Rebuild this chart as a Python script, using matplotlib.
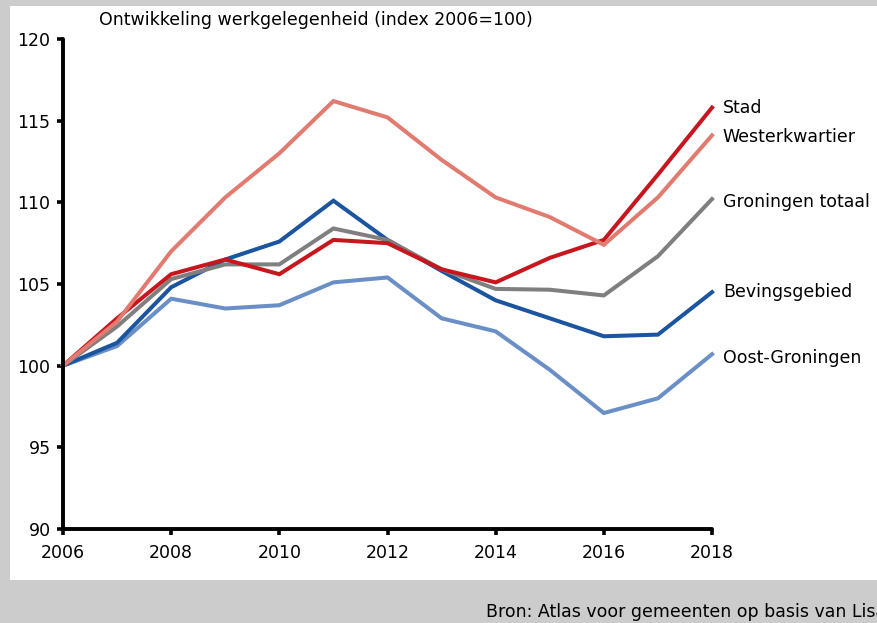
import matplotlib.pyplot as plt
from matplotlib.patches import Rectangle

plt.rcParams['font.family'] = ['DejaVu Sans']

# data
years = list(range(2006, 2019))
stad = [100, 102.9, 105.6, 106.5, 105.6, 107.7, 107.5, 105.9, 105.1, 106.6, 107.7, 111.7, 115.8]
westerkwartier = [100, 102.7, 107.0, 110.3, 113.0, 116.2, 115.2, 112.6, 110.3, 109.1, 107.4, 110.3, 114.1]
groningen_totaal = [100, 102.4, 105.3, 106.2, 106.2, 108.4, 107.7, 105.9, 104.7, 104.65, 104.3, 106.7, 110.2]
bevingsgebied = [100, 101.4, 104.8, 106.5, 107.6, 110.1, 107.7, 105.8, 104.0, 102.9, 101.8, 101.9, 104.5]
oost_groningen = [100, 101.2, 104.1, 103.5, 103.7, 105.1, 105.4, 102.9, 102.1, 99.75, 97.1, 98.0, 100.7]

series = [
    ("Oost-Groningen", oost_groningen, "#6a8fc6"),
    ("Bevingsgebied", bevingsgebied, "#1b55a0"),
    ("Groningen totaal", groningen_totaal, "#7f7f7f"),
    ("Stad", stad, "#c8161e"),
    ("Westerkwartier", westerkwartier, "#e27b6f"),
]
label_y = {"Stad": 115.8, "Westerkwartier": 114.0, "Groningen totaal": 110.0,
           "Bevingsgebied": 104.5, "Oost-Groningen": 100.5}

fs = 12.5

fig = plt.figure(figsize=(8.77, 6.23), dpi=100, facecolor="#cccccc")
# white panel
fig.patches.append(Rectangle((10 / 877, 1 - 580 / 623), 1, (580 - 6) / 623,
                             transform=fig.transFigure, facecolor="white",
                             edgecolor="none", zorder=-5))

ax = fig.add_axes([63 / 877, 1 - 529 / 623, (712 - 63) / 877, (529 - 39) / 623])
ax.set_facecolor("none")

for name, vals, col in series:
    ax.plot(years, vals, color=col, lw=2.9, solid_joinstyle="miter", clip_on=False)
    ax.text(2018.2, label_y[name], name, fontsize=fs, va="center", ha="left")

ax.set_xlim(2006, 2018)
ax.set_ylim(90, 120)
ax.set_xticks(range(2006, 2019, 2))
ax.set_yticks(range(90, 121, 5))
for s in ["top", "right"]:
    ax.spines[s].set_visible(False)
for s in ["left", "bottom"]:
    ax.spines[s].set_linewidth(2.8)
    ax.spines[s].set_capstyle("round")
ax.tick_params(direction="out", length=4, width=2.6, labelsize=fs)
ax.tick_params(axis="x", pad=7)
ax.tick_params(axis="y", pad=5)

ax.text(0.055, 1.038, "Ontwikkeling werkgelegenheid (index 2006=100)", transform=ax.transAxes,
        fontsize=fs, va="center", ha="left")

# source line runs off the right edge in the original as well
fig.text(486 / 877, 1 - 612 / 623, "Bron: Atlas voor gemeenten op basis van Lisa",
         fontsize=fs, va="center", ha="left")

fig.savefig("out.png", dpi=100, facecolor=fig.get_facecolor())
